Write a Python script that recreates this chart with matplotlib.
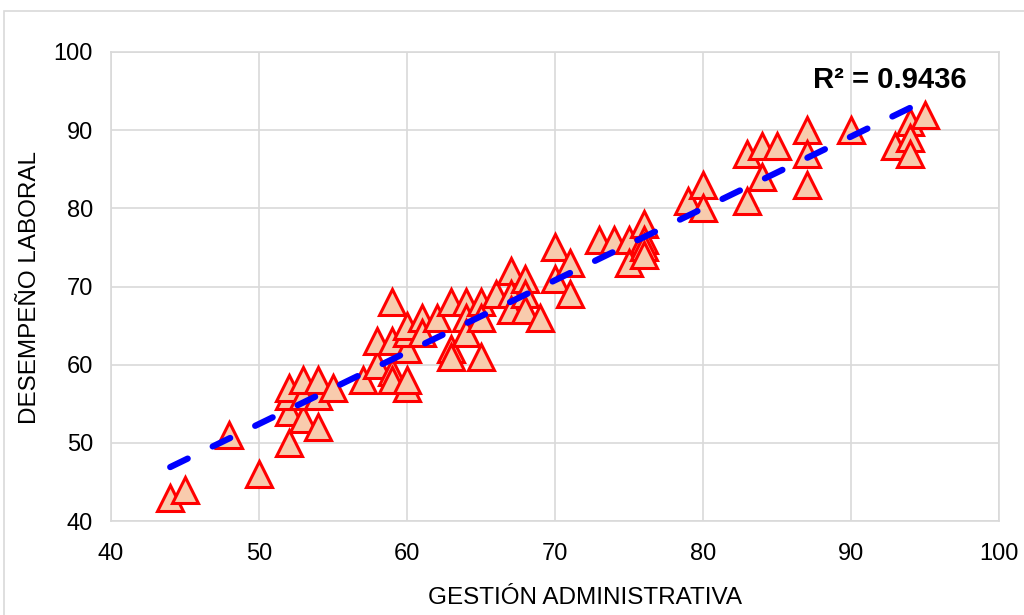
import numpy as np
import matplotlib
matplotlib.use("Agg")
from matplotlib import pyplot as plt
from matplotlib.patches import Rectangle

plt.rcParams['font.family'] = ['Liberation Sans', 'DejaVu Sans']
plt.rcParams['lines.scale_dashes'] = False

# puntajes por encuestado
gestion = [44, 45, 48, 50,
           52, 52, 52, 52, 53, 53, 53, 54, 54, 54, 55,
           57, 58, 58, 59, 59, 59, 59, 60, 60, 60, 60, 60,
           61, 61, 62, 63, 63, 63, 64, 64, 64, 65, 65, 65,
           66, 67, 67, 67, 68, 68, 68, 69,
           70, 70, 71, 71,
           73, 74, 75, 75, 76, 76, 76, 76,
           79, 80, 80, 83, 83, 84, 84, 85,
           87, 87, 87, 90, 93, 94, 94, 94, 95]
desempeno = [43, 44, 51, 46,
             50, 54, 56, 57, 53, 56, 58, 52, 56, 58, 57,
             58, 60, 63, 68, 63, 59, 58, 57, 58, 62, 64, 65,
             66, 64, 66, 68, 62, 61, 68, 66, 64, 68, 66, 61,
             69, 72, 69, 67, 71, 69, 67, 66,
             75, 71, 73, 69,
             76, 76, 76, 73, 78, 76, 75, 74,
             81, 83, 80, 87, 81, 88, 84, 88,
             90, 87, 83, 90, 88, 91, 89, 87, 92]
r2_text = "R² = 0.9436"

x = np.array(gestion, dtype=float)
y = np.array(desempeno, dtype=float)
m, b = np.polyfit(x, y, 1)
xt = np.array([x.min(), x.max()])

fig = plt.figure(figsize=(10.24, 6.15), dpi=100)
ax = fig.add_axes([111 / 1024, 94 / 615, 888 / 1024, 469 / 615])

# borde del área del gráfico
fig.patches.append(Rectangle((4 / 1024, -0.1), 1.1, 1.1 - 12 / 615 + 0.002,
                             transform=fig.transFigure, fill=False,
                             edgecolor='#D9D9D9', linewidth=1.2))

ax.plot(x, y, linestyle='none', marker='^', markersize=18.5,
        markerfacecolor='#F8CBAD', markeredgecolor='#FF0000',
        markeredgewidth=2.2, zorder=3)

tl, = ax.plot(xt, m * xt + b, color='#0000FF', linewidth=4.5,
              solid_capstyle='round', dash_capstyle='round', zorder=4)
tl.set_dashes((14, 20))

ax.text(92.6, 96.4, r2_text, fontsize=21, fontweight='bold',
        ha='center', va='center', color='#000000')

ax.set_xlim(40, 100)
ax.set_ylim(40, 100)
ax.set_xticks(np.arange(40, 101, 10))
ax.set_yticks(np.arange(40, 101, 10))
ax.grid(True, color='#D9D9D9', linewidth=1.2, zorder=0)
ax.set_axisbelow(True)
for s in ax.spines.values():
    s.set_color('#D9D9D9')
    s.set_linewidth(1.2)
ax.tick_params(length=0, labelsize=17, colors='#000000')
ax.tick_params(axis='x', pad=16)
ax.tick_params(axis='y', pad=13)

fig.text(585 / 1024, 1 - 598 / 615, "GESTIÓN ADMINISTRATIVA", fontsize=17.5,
         ha='center', va='center')
fig.text(30 / 1024, 1 - 287 / 615, "DESEMPEÑO LABORAL", fontsize=17.5,
         ha='center', va='center', rotation=90)

fig.savefig("out.png", dpi=100)
